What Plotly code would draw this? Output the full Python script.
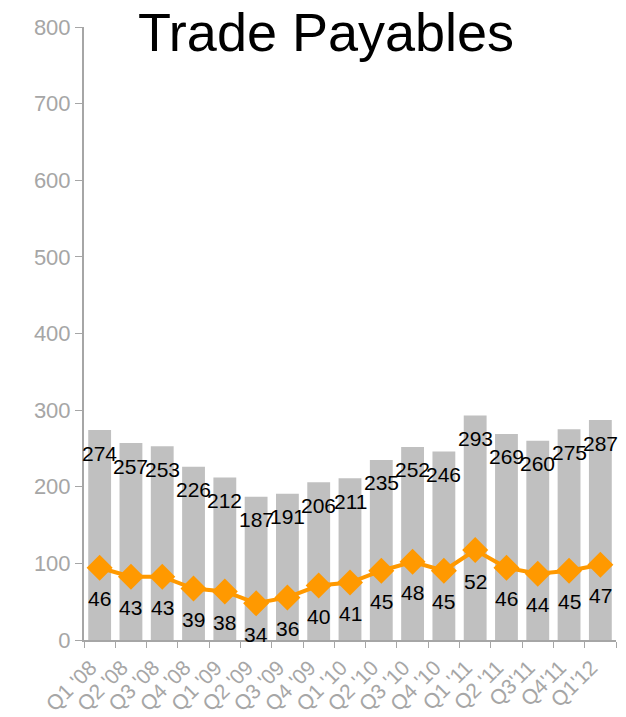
import plotly.graph_objects as go

quarters = ["Q1 '08", "Q2 '08", "Q3 '08", "Q4 '08", "Q1 '09", "Q2 '09", "Q3 '09", "Q4 '09",
            "Q1 '10", "Q2 '10", "Q3 '10", "Q4 '10", "Q1 '11", "Q2 '11", "Q3'11", "Q4'11", "Q1'12"]
payables = [274, 257, 253, 226, 212, 187, 191, 206, 211, 235, 252, 246, 293, 269, 260, 275, 287]
days = [46, 43, 43, 39, 38, 34, 36, 40, 41, 45, 48, 45, 52, 46, 44, 45, 47]

FONT = "Liberation Sans, Arial, sans-serif"
GRAY = "#A6A6A6"

fig = go.Figure()
fig.add_trace(go.Bar(x=quarters, y=payables, marker_color="#C0C0C0", marker_line_width=0,
                     showlegend=False))
fig.add_trace(go.Scatter(x=quarters, y=days, yaxis="y2", mode="lines+markers",
                         line=dict(color="#FF9900", width=4),
                         marker=dict(symbol="diamond", size=20, color="#FF9900"),
                         showlegend=False))

annotations = []
for q, v in zip(quarters, payables):
    annotations.append(dict(x=q, y=v, xref="x", yref="y", text=str(v), showarrow=False,
                            yshift=-23, font=dict(family=FONT, size=21, color="black")))
for q, v in zip(quarters, days):
    annotations.append(dict(x=q, y=v, xref="x", yref="y2", text=str(v), showarrow=False,
                            yshift=-31, font=dict(family=FONT, size=21, color="black")))

fig.update_layout(
    width=626, height=717,
    margin=dict(l=76, r=18, t=19, b=85, autoexpand=False),
    paper_bgcolor="white", plot_bgcolor="white",
    bargap=0.27,
    title=dict(text="Trade Payables", x=0.508, xanchor="center", y=0.9665, yanchor="middle",
               font=dict(family=FONT, size=54, color="black")),
    xaxis=dict(type="category", range=[-0.5, len(quarters) - 0.5], tickson="boundaries",
               ticks="outside", ticklen=6,
               tickcolor=GRAY, showline=True, linecolor=GRAY, linewidth=2,
               tickangle=-45, tickfont=dict(family=FONT, size=21, color=GRAY),
               ticklabelstandoff=5, ticklabelshift=-9,
               showgrid=False, automargin=False),
    yaxis=dict(range=[0, 800], dtick=100, ticks="outside", ticklen=7, tickcolor=GRAY,
               showline=True, linecolor=GRAY, linewidth=2, showgrid=False, zeroline=False,
               tickfont=dict(family=FONT, size=22, color=GRAY), automargin=False),
    yaxis2=dict(range=[21.6, 228.7], overlaying="y", visible=False, showgrid=False,
                zeroline=False, automargin=False),
    annotations=annotations,
)

fig.write_html("out.html")
